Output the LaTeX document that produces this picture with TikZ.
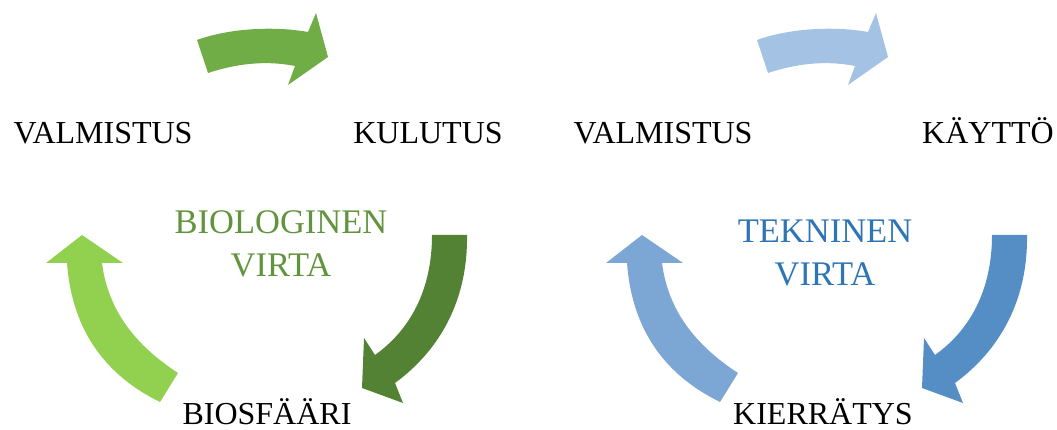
\documentclass[tikz,border=0pt]{standalone}
\usepackage{fontspec}
\setmainfont{Liberation Serif}

\definecolor{topgreen}{RGB}{112,173,71}
\definecolor{lightgreen}{RGB}{146,208,80}
\definecolor{darkgreen}{RGB}{84,130,53}
\definecolor{biotext}{RGB}{98,148,62}
\definecolor{topblue}{RGB}{164,194,228}
\definecolor{midblue}{RGB}{124,166,212}
\definecolor{deepblue}{RGB}{84,142,196}
\definecolor{tektext}{RGB}{46,117,182}

\begin{document}
\begin{tikzpicture}[x=1pt, y=-1pt,
    stage/.style={anchor=base, inner sep=0pt, font=\fontsize{32}{38}\selectfont},
    flowname/.style={anchor=center, align=center, inner sep=0pt, font=\fontsize{34.5}{43}\selectfont}]

  \useasboundingbox (0,0) rectangle (1057,430);

  % biological cycle: block arrows
  \fill[topgreen] (197,40) .. controls (230,28) and (275,26) .. (308,32)
    -- (316,13) -- (328,57) -- (288,85) -- (295,66)
    .. controls (265,60) and (235,64) .. (208,73) -- cycle;
  \fill[darkgreen] (432,235) -- (467,235)
    .. controls (468,300) and (440,350) .. (395,383)
    -- (403,403) -- (362,388) -- (364,338) -- (375,355)
    .. controls (410,330) and (432,290) .. (432,235) -- cycle;
  \fill[lightgreen] (82,235) -- (123,263) -- (102,263)
    .. controls (108,310) and (135,345) .. (178,373)
    -- (160,402) .. controls (105,375) and (72,330) .. (67,263)
    -- (46,263) -- cycle;

  % biological cycle: labels
  \node[stage] (valmbio) at (103,144) {VALMISTUS};
  \node[stage] (kulutus) at (428,144) {KULUTUS};
  \node[stage] (biosfaari) at (267,424) {BIOSFÄÄRI};
  \node[flowname, biotext] (biovirta) at (281,244) {BIOLOGINEN\\VIRTA};

  % technical cycle: same arrows, shifted right
  \begin{scope}[xshift=560pt]
    \fill[topblue] (197,40) .. controls (230,28) and (275,26) .. (308,32)
      -- (316,13) -- (328,57) -- (288,85) -- (295,66)
      .. controls (265,60) and (235,64) .. (208,73) -- cycle;
    \fill[deepblue] (432,235) -- (467,235)
      .. controls (468,300) and (440,350) .. (395,383)
      -- (403,403) -- (362,388) -- (364,338) -- (375,355)
      .. controls (410,330) and (432,290) .. (432,235) -- cycle;
    \fill[midblue] (82,235) -- (123,263) -- (102,263)
      .. controls (108,310) and (135,345) .. (178,373)
      -- (160,402) .. controls (105,375) and (72,330) .. (67,263)
      -- (46,263) -- cycle;
  \end{scope}

  % technical cycle: labels
  \node[stage] (valmtek) at (663,144) {VALMISTUS};
  \node[stage] (kaytto) at (988,144) {KÄYTTÖ};
  \node[stage] (kierratys) at (823,424) {KIERRÄTYS};
  \node[flowname, tektext] (tekvirta) at (825,253) {TEKNINEN\\VIRTA};

\end{tikzpicture}
\end{document}
